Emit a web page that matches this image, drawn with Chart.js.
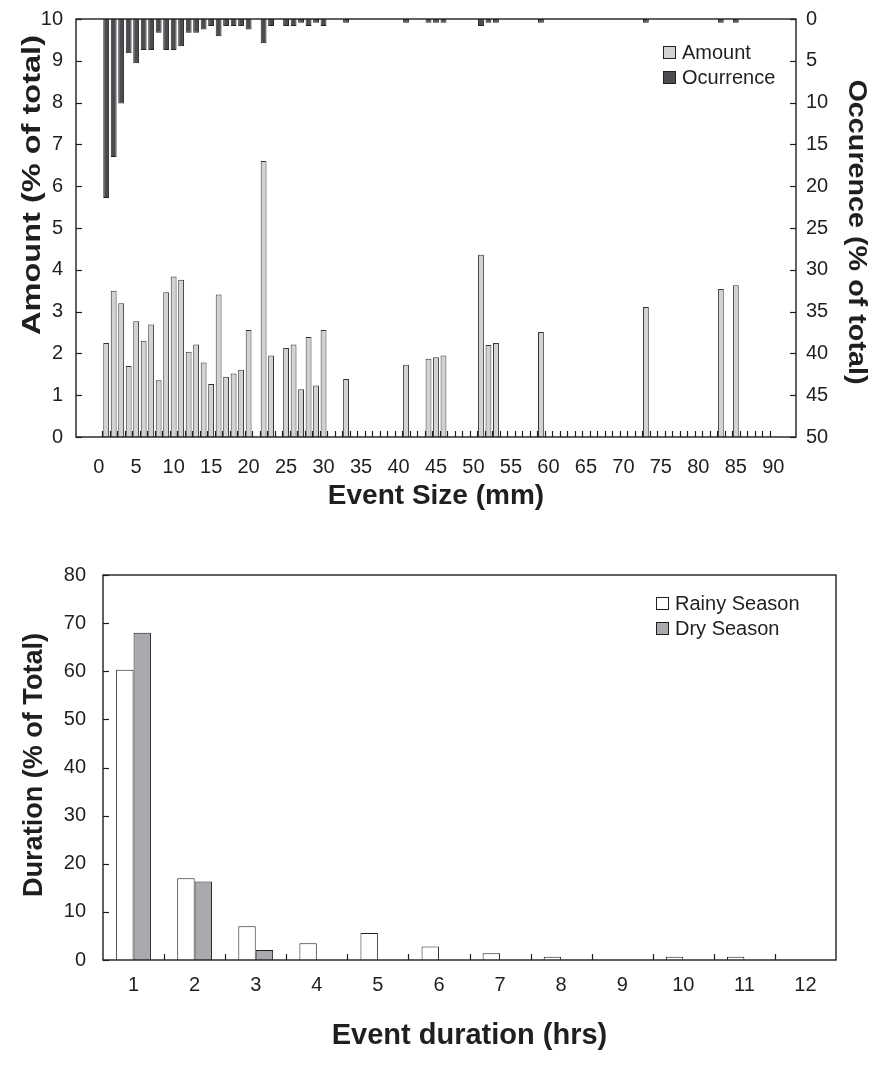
<!DOCTYPE html>
<html>
<head>
<meta charset="utf-8">
<title>Event size and duration</title>
<script src="https://cdn.jsdelivr.net/npm/chart.js@4.4.1/dist/chart.umd.min.js"></script>
<style>
    html, body { margin: 0; padding: 0; background: #fff; }
    #wrap { position: relative; width: 878px; height: 1074px; }
    .panel { position: absolute; left: 0; width: 878px; }
    #size-panel { top: 0; height: 525px; }
    #duration-panel { top: 525px; height: 549px; }
</style>
</head>
<body>
<div id="wrap">
    <div class="panel" id="size-panel"><canvas id="size-chart"></canvas></div>
    <div class="panel" id="duration-panel"><canvas id="duration-chart"></canvas></div>
</div>
<script>
// ---- top panel: event size (mm) ----
const eventSize = [1, 2, 3, 4, 5, 6, 7, 8, 9, 10, 11, 12, 13, 14, 15, 16, 17, 18, 19, 20,
    22, 23, 25, 26, 27, 28, 29, 30, 33, 41, 44, 45, 46, 51, 52, 53, 59, 73, 83, 85];
// Amount (% of total), left axis
const amount = [2.25, 3.5, 3.2, 1.7, 2.77, 2.3, 2.69, 1.36, 3.46, 3.84, 3.76, 2.04, 2.21, 1.78, 1.27, 3.41, 1.44, 1.52, 1.61, 2.56,
    6.6, 1.95, 2.13, 2.21, 1.14, 2.39, 1.23, 2.56, 1.39, 1.73, 1.87, 1.91, 1.95, 4.36, 2.2, 2.25, 2.51, 3.11, 3.54, 3.63];
// Occurence (% of total), right axis (reversed)
const occurrence = [21.4, 16.5, 10.1, 4.1, 5.3, 3.7, 3.7, 1.65, 3.7, 3.7, 3.25, 1.65, 1.65, 1.25, 0.85, 2.05, 0.85, 0.85, 0.85, 1.25,
    2.9, 0.85, 0.85, 0.85, 0.45, 0.85, 0.45, 0.85, 0.45, 0.45, 0.45, 0.45, 0.45, 0.85, 0.45, 0.45, 0.45, 0.45, 0.45, 0.45];
const sizeTicks = [0, 5, 10, 15, 20, 25, 30, 35, 40, 45, 50, 55, 60, 65, 70, 75, 80, 85, 90];

// ---- bottom panel: event duration (hrs) ----
const durationLabels = ['1', '2', '3', '4', '5', '6', '7', '8', '9', '10', '11', '12'];
const rainySeason = [60.3, 17, 7, 3.5, 5.6, 2.8, 1.4, 0.7, null, 0.7, 0.7, null];
const drySeason = [68, 16.3, 2.1, null, null, null, null, null, null, null, null, null];

const FONT = "'Liberation Sans', Arial, sans-serif";
const INK = '#1f1f1f';

Chart.defaults.font.family = FONT;
Chart.defaults.color = INK;
Chart.defaults.animation = false;

const tickFont = { family: FONT, size: 20 };
// small line height on value axes so the end labels don't push the plot area down
const valueTickFont = { family: FONT, size: 20, lineHeight: 0.6 };

// frame box + inward tick marks (Excel style)
const framePlugin = {
    id: 'frame',
    afterDatasetsDraw(chart, args, opts) {
        const { ctx, chartArea: a } = chart;
        ctx.save();
        ctx.strokeStyle = INK;
        ctx.lineWidth = 1.2;
        Object.values(chart.scales).forEach(s => {
            if (s.axis !== 'y') return;
            const x0 = s.position === 'left' ? a.left : a.right;
            const dir = s.position === 'left' ? 1 : -1;
            s.ticks.forEach(t => {
                const y = Math.round(s.getPixelForValue(t.value)) + 0.5;
                ctx.beginPath();
                ctx.moveTo(x0, y);
                ctx.lineTo(x0 + dir * 6, y);
                ctx.stroke();
            });
        });
        const xs = opts.boundaries ? opts.boundaries(chart) : [];
        xs.forEach(x => {
            const px = Math.round(x) + 0.5;
            ctx.beginPath();
            ctx.moveTo(px, a.bottom);
            ctx.lineTo(px, a.bottom - 6);
            ctx.stroke();
        });
        ctx.lineWidth = 1.4;
        ctx.strokeRect(a.left, a.top, a.right - a.left, a.bottom - a.top);
        ctx.restore();
    }
};

// legend drawn inside the plot area
const boxLegend = {
    id: 'boxLegend',
    afterDraw(chart, args, opts) {
        const { ctx, chartArea: a } = chart;
        ctx.save();
        ctx.font = '20px ' + FONT;
        ctx.textBaseline = 'middle';
        chart.data.datasets.forEach((ds, i) => {
            const x = a.right - opts.right;
            const y = a.top + opts.top + i * opts.rowHeight;
            ctx.fillStyle = ds.backgroundColor;
            ctx.fillRect(x, y - 6, 12, 12);
            ctx.strokeStyle = INK;
            ctx.lineWidth = 1;
            ctx.strokeRect(x + 0.5, y - 5.5, 12, 12);
            ctx.fillStyle = INK;
            ctx.fillText(ds.label, x + 19, y + 1);
        });
        ctx.restore();
    }
};

// rotated value-axis titles (the source figure stretches them along the axis)
const axisTitles = {
    id: 'axisTitles',
    afterDraw(chart, args, opts) {
        const ctx = chart.ctx;
        (opts.items || []).forEach(t => {
            ctx.save();
            ctx.font = 'bold ' + t.size + 'px ' + FONT;
            ctx.fillStyle = INK;
            ctx.textAlign = 'center';
            ctx.textBaseline = 'middle';
            ctx.translate(t.x, t.y);
            ctx.rotate(t.rotation * Math.PI / 180);
            const w = ctx.measureText(t.text).width;
            ctx.scale(t.length ? t.length / w : 1, 1);
            ctx.fillText(t.text, 0, 0);
            ctx.restore();
        });
    }
};

// Event size chart
const sizeCtx = document.getElementById('size-chart');
new Chart(sizeCtx, {
    type: 'bar',
    data: {
        datasets: [{
            label: 'Amount',
            data: eventSize.map((s, i) => ({ x: s, y: amount[i] })),
            yAxisID: 'y',
            backgroundColor: '#d2d2d2',
            borderColor: '#333333',
            borderWidth: 1,
            grouped: false,
            categoryPercentage: 1,
            barPercentage: 0.78
        }, {
            label: 'Ocurrence',
            data: eventSize.map((s, i) => ({ x: s, y: occurrence[i] })),
            yAxisID: 'y2',
            backgroundColor: '#4b4b50',
            borderColor: '#222222',
            borderWidth: 1,
            grouped: false,
            categoryPercentage: 1,
            barPercentage: 0.78
        }]
    },
    options: {
        responsive: true,
        maintainAspectRatio: false,
        layout: { padding: { top: 17, left: 0, right: 0, bottom: 0 } },
        plugins: {
            legend: { display: false },
            tooltip: { enabled: false },
            boxLegend: { right: 133, top: 33, rowHeight: 25 },
            axisTitles: {
                items: [
                    { text: 'Amount (% of total)', x: 33, y: 185, rotation: -90, size: 26, length: 300 },
                    { text: 'Occurence (% of total)', x: 856, y: 232, rotation: 90, size: 26, length: 305 }
                ]
            },
            frame: {
                boundaries: chart => {
                    const s = chart.scales.x;
                    const out = [];
                    for (let v = s.min + 1; v < s.max; v++) out.push(s.getPixelForValue(v));
                    return out;
                }
            }
        },
        scales: {
            x: {
                type: 'linear',
                min: -0.5,
                max: 90.5,
                afterBuildTicks: s => { s.ticks = sizeTicks.map(v => ({ value: v })); },
                afterFit: s => { s.height = 88; },
                grid: { display: false },
                border: { display: false },
                ticks: { font: tickFont, padding: 10, maxRotation: 0, autoSkip: false },
                title: { display: true, text: 'Event Size (mm)', font: { family: FONT, size: 28, weight: 'bold' }, padding: { top: 0, bottom: 12 } }
            },
            y: {
                position: 'left',
                min: 0,
                max: 10,
                afterFit: s => { s.width = 76; },
                grid: { display: false, drawTicks: false },
                border: { display: false },
                ticks: { stepSize: 1, font: valueTickFont, padding: 13 }
            },
            y2: {
                position: 'right',
                reverse: true,
                min: 0,
                max: 50,
                afterFit: s => { s.width = 82; },
                grid: { display: false, drawTicks: false },
                border: { display: false },
                ticks: { stepSize: 5, font: valueTickFont, padding: 10 }
            }
        }
    },
    plugins: [framePlugin, boxLegend, axisTitles]
});

// Event duration chart
const durationCtx = document.getElementById('duration-chart');
new Chart(durationCtx, {
    type: 'bar',
    data: {
        labels: durationLabels,
        datasets: [{
            label: 'Rainy Season',
            data: rainySeason,
            backgroundColor: '#ffffff',
            borderColor: '#1f1f1f',
            borderWidth: 1,
            categoryPercentage: 0.57,
            barPercentage: 1
        }, {
            label: 'Dry Season',
            data: drySeason,
            backgroundColor: '#a9a9ae',
            borderColor: '#1f1f1f',
            borderWidth: 1,
            categoryPercentage: 0.57,
            barPercentage: 1
        }]
    },
    options: {
        responsive: true,
        maintainAspectRatio: false,
        layout: { padding: { top: 50, left: 0, right: 42, bottom: 0 } },
        plugins: {
            legend: { display: false },
            tooltip: { enabled: false },
            boxLegend: { right: 180, top: 28, rowHeight: 25 },
            axisTitles: {
                items: [
                    { text: 'Duration (% of Total)', x: 34, y: 240, rotation: -90, size: 28, length: 264 }
                ]
            },
            frame: {
                boundaries: chart => {
                    const s = chart.scales.x;
                    const out = [];
                    for (let i = 1; i < durationLabels.length; i++) {
                        out.push((s.getPixelForValue(i - 1) + s.getPixelForValue(i)) / 2);
                    }
                    return out;
                }
            }
        },
        scales: {
            x: {
                afterFit: s => { s.height = 114; },
                grid: { display: false },
                border: { display: false },
                ticks: { font: tickFont, padding: 5, maxRotation: 0 },
                title: { display: true, text: 'Event duration (hrs)', font: { family: FONT, size: 29, weight: 'bold' }, padding: { top: 0, bottom: 21 } }
            },
            y: {
                min: 0,
                max: 80,
                afterFit: s => { s.width = 103; },
                grid: { display: false, drawTicks: false },
                border: { display: false },
                ticks: { stepSize: 10, font: valueTickFont, padding: 17 }
            }
        }
    },
    plugins: [framePlugin, boxLegend, axisTitles]
});
</script>
</body>
</html>
